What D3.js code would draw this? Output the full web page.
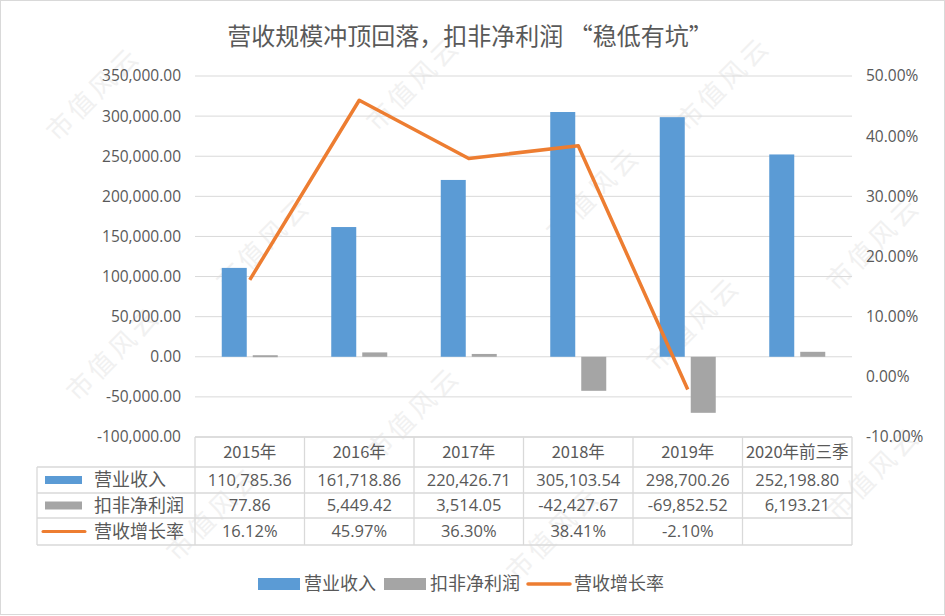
<!DOCTYPE html>
<html>
<head>
<meta charset="utf-8">
<script src="https://cdn.jsdelivr.net/npm/d3@7"></script>
<style>
  body { margin: 0; background: #fff; }
  svg { display: block; font-family: "Noto Sans CJK SC", "Noto Sans", sans-serif; }
</style>
</head>
<body>
<svg id="chart" width="945" height="616"></svg>
<script>
// Data
const categories = ["2015年", "2016年", "2017年", "2018年", "2019年", "2020年前三季"];
const revenue = [110785.36, 161718.86, 220426.71, 305103.54, 298700.26, 252198.80];
const netProfit = [77.86, 5449.42, 3514.05, -42427.67, -69852.52, 6193.21];
const growth = [0.1612, 0.4597, 0.3630, 0.3841, -0.0210, null];
const seriesNames = ["营业收入", "扣非净利润", "营收增长率"];
const leftTicks = [-100000, -50000, 0, 50000, 100000, 150000, 200000, 250000, 300000, 350000];
const rightTicks = [-0.1, 0, 0.1, 0.2, 0.3, 0.4, 0.5];
const titleText = "营收规模冲顶回落，扣非净利润 “稳低有坑”";

const colors = { revenue: "#5b9bd5", profit: "#a5a5a5", growth: "#ed7d31" };
const textColor = "#595959";
const gridColor = "#d9d9d9";

const svg = d3.select("#chart");
const W = 945, H = 616;

// Plot area
const plot = { left: 195, right: 852, top: 76, bottom: 437 };

// plain hyphen instead of unicode minus
const fixMinus = s => s.replace("\u2212", "-");

// outer frame
svg.append("rect")
  .attr("x", 0.5).attr("y", 0.5)
  .attr("width", W - 1).attr("height", H - 2)
  .attr("fill", "#fff")
  .attr("stroke", "#d9d9d9");

// Watermarks (faint)
const wm = svg.append("g").attr("fill", "#f1f1f1").attr("font-size", 26).attr("letter-spacing", 4);
const wmPos = [[100, 100], [420, 90], [730, 90], [270, 250], [600, 200], [880, 250],
  [120, 360], [420, 420], [700, 330], [880, 480], [560, 540], [220, 520]];
wmPos.forEach(p => {
  wm.append("text")
    .attr("transform", `translate(${p[0]},${p[1]}) rotate(-45)`)
    .attr("text-anchor", "middle")
    .text("市值风云");
});

// Title
svg.append("text")
  .attr("x", 470).attr("y", 45)
  .attr("text-anchor", "middle")
  .attr("font-size", 24)
  .attr("fill", textColor)
  .text(titleText);

// Scales
const x = d3.scaleBand().domain(categories).range([plot.left, plot.right]);
const yL = d3.scaleLinear().domain([-100000, 350000]).range([plot.bottom, plot.top]);
const yR = d3.scaleLinear().domain([-0.1, 0.5]).range([plot.bottom, plot.top]);
const barW = 25, gap = 6;

// Gridlines
svg.append("g")
  .selectAll("line")
  .data(leftTicks)
  .join("line")
  .attr("x1", plot.left).attr("x2", plot.right)
  .attr("y1", d => yL(d)).attr("y2", d => yL(d))
  .attr("stroke", gridColor)
  .attr("stroke-width", 1);

// Left axis
const fmtL = v => fixMinus(d3.format(",.2f")(v));
const fmtPct = v => fixMinus(d3.format(".2%")(v));
const leftAxis = svg.append("g")
  .attr("transform", `translate(${plot.left},0)`)
  .call(d3.axisLeft(yL).tickValues(leftTicks).tickFormat(fmtL).tickSize(0).tickPadding(14));
leftAxis.select(".domain").remove();
leftAxis.selectAll("text")
  .attr("font-size", 15.5)
  .attr("fill", textColor)
  .attr("font-family", "Open Sans, sans-serif");

// Right axis
const rightAxis = svg.append("g")
  .attr("transform", `translate(${plot.right},0)`)
  .call(d3.axisRight(yR).tickValues(rightTicks).tickFormat(fmtPct).tickSize(0).tickPadding(14));
rightAxis.select(".domain").remove();
rightAxis.selectAll("text")
  .attr("font-size", 15.5)
  .attr("fill", textColor)
  .attr("font-family", "Open Sans, sans-serif");

// Bars
svg.append("g")
  .selectAll("rect")
  .data(revenue)
  .join("rect")
  .attr("x", (d, i) => x(categories[i]) + x.bandwidth() / 2 - gap / 2 - barW)
  .attr("y", d => yL(Math.max(0, d)))
  .attr("width", barW)
  .attr("height", d => Math.abs(yL(d) - yL(0)))
  .attr("fill", colors.revenue);

svg.append("g")
  .selectAll("rect")
  .data(netProfit)
  .join("rect")
  .attr("x", (d, i) => x(categories[i]) + x.bandwidth() / 2 + gap / 2)
  .attr("y", d => yL(Math.max(0, d)) - (Math.abs(yL(d) - yL(0)) < 2 ? 1.5 : 0))
  .attr("width", barW)
  .attr("height", d => Math.max(2, Math.abs(yL(d) - yL(0))))
  .attr("fill", colors.profit);

// Growth line
const line = d3.line()
  .defined(d => d.v !== null)
  .x(d => x(d.c) + x.bandwidth() / 2)
  .y(d => yR(d.v));
svg.append("path")
  .datum(categories.map((c, i) => ({ c, v: growth[i] })))
  .attr("d", line)
  .attr("fill", "none")
  .attr("stroke", colors.growth)
  .attr("stroke-width", 3.5)
  .attr("stroke-linejoin", "round");

// Data table
const tableLeft = 37;
const rowY = [437, 467, 493, 518, 545];
const colX = categories.map(c => x(c)).concat([plot.right]);
const tbl = svg.append("g").attr("stroke", gridColor).attr("stroke-width", 1.3);

tbl.append("line").attr("x1", plot.left).attr("x2", plot.right).attr("y1", rowY[0]).attr("y2", rowY[0]);
rowY.slice(1).forEach(y => {
  tbl.append("line").attr("x1", tableLeft).attr("x2", plot.right).attr("y1", y).attr("y2", y);
});
colX.forEach(cx => {
  tbl.append("line").attr("x1", cx).attr("x2", cx).attr("y1", rowY[0]).attr("y2", rowY[4]);
});
tbl.append("line").attr("x1", tableLeft).attr("x2", tableLeft).attr("y1", rowY[1]).attr("y2", rowY[4]);

const cellFont = 16.5;
svg.append("g")
  .selectAll("text")
  .data(categories)
  .join("text")
  .attr("x", d => x(d) + x.bandwidth() / 2)
  .attr("y", (rowY[0] + rowY[1]) / 2)
  .attr("dy", "0.36em")
  .attr("text-anchor", "middle")
  .attr("font-size", cellFont)
  .attr("fill", textColor)
  .text(d => d);

const rows = [
  { name: seriesNames[0], vals: revenue.map(fmtL), key: "bar", color: colors.revenue },
  { name: seriesNames[1], vals: netProfit.map(fmtL), key: "bar", color: colors.profit },
  { name: seriesNames[2], vals: growth.map(v => v === null ? "" : fmtPct(v)), key: "line", color: colors.growth }
];

rows.forEach((r, ri) => {
  const yMid = (rowY[ri + 1] + rowY[ri + 2]) / 2;
  if (r.key === "bar") {
    svg.append("rect")
      .attr("x", 45).attr("y", yMid - 4)
      .attr("width", 37).attr("height", 8)
      .attr("fill", r.color);
  } else {
    svg.append("line")
      .attr("x1", 43).attr("x2", 85)
      .attr("y1", yMid).attr("y2", yMid)
      .attr("stroke", r.color)
      .attr("stroke-width", 3)
      .attr("stroke-linecap", "round");
  }
  svg.append("text")
    .attr("x", 94).attr("y", yMid)
    .attr("dy", "0.36em")
    .attr("font-size", 18)
    .attr("fill", textColor)
    .text(r.name);
  svg.append("g")
    .selectAll("text")
    .data(r.vals)
    .join("text")
    .attr("x", (d, i) => x(categories[i]) + x.bandwidth() / 2)
    .attr("y", yMid)
    .attr("dy", "0.36em")
    .attr("text-anchor", "middle")
    .attr("font-size", cellFont)
    .attr("font-family", "Open Sans, sans-serif")
    .attr("fill", textColor)
    .text(d => d);
});

// Legend
const legend = svg.append("g").attr("transform", "translate(0,584)");
let lx = 258;
rows.forEach(r => {
  if (r.key === "bar") {
    legend.append("rect")
      .attr("x", lx).attr("y", -6)
      .attr("width", 42).attr("height", 12)
      .attr("fill", r.color);
  } else {
    legend.append("line")
      .attr("x1", lx).attr("x2", lx + 42)
      .attr("y1", 0).attr("y2", 0)
      .attr("stroke", r.color)
      .attr("stroke-width", 3.5)
      .attr("stroke-linecap", "round");
  }
  const t = legend.append("text")
    .attr("x", lx + 46).attr("y", 0)
    .attr("dy", "0.36em")
    .attr("font-size", 18)
    .attr("fill", textColor)
    .text(r.name);
  lx += 46 + t.node().getComputedTextLength() + 8;
});
</script>
</body>
</html>
